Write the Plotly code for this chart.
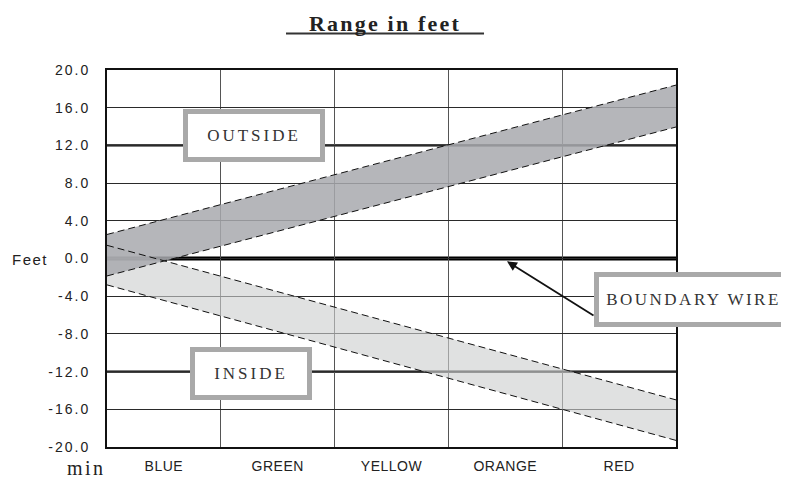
import plotly.graph_objects as go

# ---- data ----
categories = ["BLUE", "GREEN", "YELLOW", "ORANGE", "RED"]
y_ticks = [20, 16, 12, 8, 4, 0, -4, -8, -12, -16, -20]
y_tick_labels = ["20.0", "16.0", "12.0", "8.0", "4.0", "0.0", "-4.0", "-8.0", "-12.0", "-16.0", "-20.0"]
band_x = [0, 5]                 # left and right edge of the scale (min .. max)
outside_upper = [2.55, 18.4]
outside_lower = [-1.85, 13.95]
inside_upper = [1.4, -15.0]
inside_lower = [-2.8, -19.3]
boundary_wire = 0.0
strong_lines = [12, -12]


def sp(t, ls):
    return f'<span style="letter-spacing:{ls}px">{t}</span>'


fig = go.Figure()

# bands
fig.add_trace(go.Scatter(
    x=band_x + band_x[::-1], y=inside_upper + inside_lower[::-1],
    fill="toself", fillcolor="rgba(205,207,207,0.62)", line=dict(width=0),
    mode="lines", hoverinfo="skip", showlegend=False))
fig.add_trace(go.Scatter(
    x=band_x + band_x[::-1], y=outside_upper + outside_lower[::-1],
    fill="toself", fillcolor="rgba(168,169,174,0.85)", line=dict(width=0),
    mode="lines", hoverinfo="skip", showlegend=False))
for ys in (inside_upper, inside_lower, outside_upper, outside_lower):
    fig.add_trace(go.Scatter(x=band_x, y=ys, mode="lines",
                             line=dict(color="#111111", width=1, dash="7px,4px"),
                             hoverinfo="skip", showlegend=False))

# thick horizontal lines
for v in strong_lines:
    fig.add_shape(type="line", xref="x", yref="y", x0=band_x[0], x1=band_x[1], y0=v, y1=v,
                  line=dict(color="#000000", width=2.2), layer="below")
fig.add_shape(type="line", xref="x", yref="y", x0=band_x[0], x1=band_x[1],
              y0=boundary_wire, y1=boundary_wire,
              line=dict(color="#000000", width=4), layer="below")

# title + underline
fig.add_annotation(text="<b>" + sp("Range in feet", 2.2) + "</b>",
                   xref="paper", yref="paper", x=0.4877, y=1.123,
                   xanchor="center", yanchor="middle", showarrow=False,
                   font=dict(family="Liberation Serif", size=22, color="#222222"))
fig.add_shape(type="line", xref="paper", yref="paper", x0=0.3146, x1=0.6626,
              y0=1.0969, y1=1.0969, line=dict(color="#333333", width=2))

box_font = dict(family="Liberation Serif", size=17, color="#333333")
fig.add_annotation(text=sp("OUTSIDE", 3), x=1.292, y=13.1, xref="x", yref="y",
                   xanchor="center", yanchor="middle",
                   showarrow=False, width=130, height=41, borderwidth=5, borderpad=1,
                   bordercolor="#a9a9a9", bgcolor="white", font=box_font)
fig.add_annotation(text=sp("INSIDE", 3), x=1.265, y=-12.25, xref="x", yref="y",
                   xanchor="center", yanchor="middle",
                   showarrow=False, width=110, height=41, borderwidth=5, borderpad=1,
                   bordercolor="#a9a9a9", bgcolor="white", font=box_font)
fig.add_annotation(text=sp("BOUNDARY WIRE", 2.5), x=1.03, y=0.392,
                   xref="paper", yref="paper", xanchor="center", yanchor="middle",
                   showarrow=False, width=187, height=43,
                   borderwidth=5, borderpad=1, bordercolor="#a9a9a9", bgcolor="white",
                   font=box_font)
# arrow
fig.add_annotation(text="", x=3.515, y=-0.3, xref="x", yref="y", showarrow=True,
                   ax=88, ay=55, arrowhead=2, arrowsize=1.1, arrowwidth=1.8,
                   arrowcolor="#111111", standoff=0)

fig.add_annotation(text=sp("Feet", 1.5), xref="paper", yref="paper",
                   x=-0.1353, y=0.497, xanchor="center", yanchor="middle", showarrow=False,
                   font=dict(family="Liberation Sans", size=15, color="#222222"))
fig.add_annotation(text=sp("min", 2.5), xref="paper", yref="paper",
                   x=-0.0369, y=-0.056, xanchor="center", yanchor="middle", showarrow=False,
                   font=dict(family="Liberation Serif", size=20, color="#222222"))

fig.update_layout(
    width=781, height=478, margin=dict(l=99, r=113, t=62, b=34),
    paper_bgcolor="white", plot_bgcolor="white", showlegend=False,
    xaxis=dict(range=band_x, tickvals=[i + 0.5 for i in range(len(categories))],
               ticktext=[sp(c, 0.5) for c in categories],
               showgrid=False, zeroline=False, ticks="", ticklabelstandoff=5,
               showline=True, linecolor="#111111", linewidth=2, mirror=True,
               tickfont=dict(family="Liberation Sans", size=14, color="#222222"),
               minor=dict(tickvals=[1, 2, 3, 4], showgrid=True, gridcolor="#555555",
                          gridwidth=1, ticks="")),
    yaxis=dict(range=[-20, 20], tickvals=y_ticks, ticktext=[sp(t, 2) for t in y_tick_labels],
               showgrid=True, gridcolor="#2a2a2a", gridwidth=1, zeroline=False,
               ticks="", ticklabelstandoff=12,
               showline=True, linecolor="#111111", linewidth=2, mirror=True,
               tickfont=dict(family="Liberation Sans", size=14, color="#222222")),
)

fig.write_html("out.html")
